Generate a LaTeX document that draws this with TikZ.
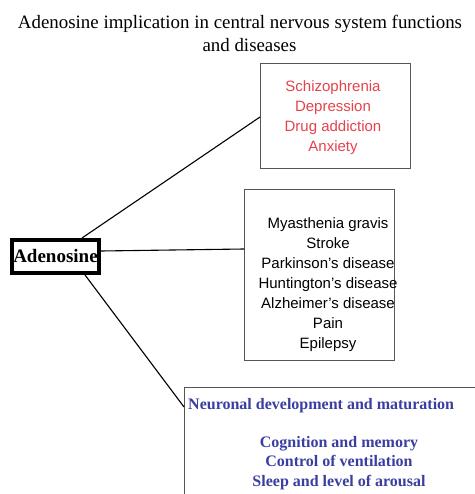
\documentclass[tikz,border=0pt]{standalone}
\usepackage{fontspec}
\setmainfont{Liberation Serif}
\newfontfamily\boxsans{Liberation Sans}
\definecolor{redtxt}{RGB}{229,66,76}
\definecolor{bluetxt}{RGB}{58,62,160}
\definecolor{boxgray}{RGB}{85,85,85}
\begin{document}
\begin{tikzpicture}[x=1pt,y=-1pt,
  plainbox/.style={draw=boxgray,line width=0.9pt,inner sep=0pt,anchor=north west},
  titletxt/.style={font=\fontsize{18.9}{22}\selectfont,anchor=base,inner sep=0pt},
  redline/.style={font=\boxsans\fontsize{15}{20}\selectfont,text=redtxt,anchor=base,inner sep=0pt},
  blackline/.style={font=\boxsans\fontsize{15}{20}\selectfont,text=black,anchor=base,inner sep=0pt},
  blueline/.style={font=\bfseries\fontsize{16}{19.5}\selectfont,text=bluetxt,anchor=base,inner sep=0pt},
  conn/.style={draw=black,line width=1.1pt}]
\useasboundingbox (0,0) rectangle (474,494);
% title
\node[titletxt] (t1) at (240,29) {Adenosine implication in central nervous system functions};
\node[titletxt] (t2) at (249.5,52) {and diseases};
% boxes
\node[plainbox,minimum width=150pt,minimum height=105pt] (box1) at (260,63) {};
\node[plainbox,minimum width=150pt,minimum height=171pt] (box2) at (244,189) {};
\node[plainbox,minimum width=300pt,minimum height=130pt] (box3) at (184,387) {};
\node[draw=black,line width=4pt,minimum width=87pt,minimum height=33pt,inner sep=0pt] (aden) at (55.5,256.5) {};
\node[font=\bfseries\fontsize{19}{22}\selectfont,anchor=base,inner sep=0pt] (adentxt) at (55.5,262) {Adenosine};
% red texts
\node[redline] (r1) at (333,92) {Schizophrenia};
\node[redline] (r2) at (333,112) {Depression};
\node[redline] (r3) at (333,132) {Drug addiction};
\node[redline] (r4) at (333,152) {Anxiety};
% black texts
\node[blackline] (b1) at (328,228) {Myasthenia gravis};
\node[blackline] (b2) at (328,248) {Stroke};
\node[blackline] (b3) at (328,268) {Parkinson’s disease};
\node[blackline] (b4) at (328,288) {Huntington’s disease};
\node[blackline] (b5) at (328,308) {Alzheimer’s disease};
\node[blackline] (b6) at (328,328) {Pain};
\node[blackline] (b7) at (328,348) {Epilepsy};
% blue texts
\node[blueline,anchor=base west] (n1) at (188,409) {Neuronal development and maturation};
\node[blueline] (n2) at (339,447) {Cognition and memory};
\node[blueline] (n3) at (339,466) {Control of ventilation};
\node[blueline] (n4) at (339,486) {Sleep and level of arousal};
% connectors
\coordinate (c1s) at ([xshift=26.5pt]aden.north);
\coordinate (c1e) at ([yshift=-54pt]box1.north west);
\coordinate (c2s) at ([yshift=5.5pt]aden.east);
\coordinate (c2e) at ([yshift=-60pt]box2.north west);
\coordinate (c3s) at ([xshift=29.5pt]aden.south);
\coordinate (c3e) at ([yshift=-20pt]box3.north west);
\draw[conn] (c1s) -- (c1e);
\draw[conn] (c2s) -- (c2e);
\draw[conn] (c3s) -- (c3e);
\end{tikzpicture}
\end{document}
